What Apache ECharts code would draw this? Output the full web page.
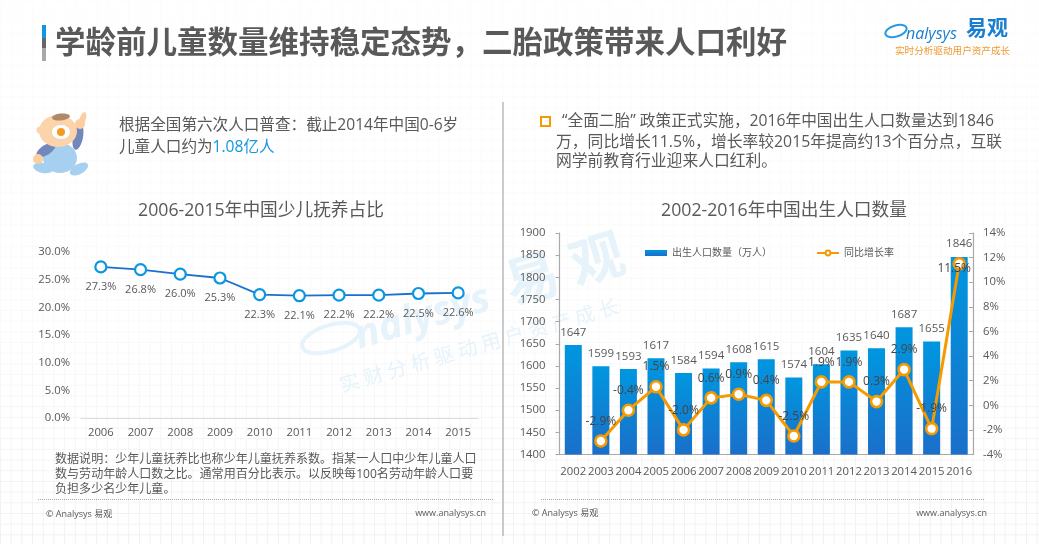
<!DOCTYPE html>
<html><head><meta charset="utf-8">
<style>
html,body{margin:0;padding:0;width:1039px;height:544px;overflow:hidden;background:#fff}
#bg{position:absolute;left:0;top:0;width:1039px;height:544px;
background-image:linear-gradient(#f1f1f1 1px,transparent 1px),linear-gradient(90deg,#f1f1f1 1px,transparent 1px);
background-size:10.7px 10.7px}
#fade{position:absolute;left:0;top:0;width:1039px;height:544px;background:linear-gradient(180deg,rgba(255,255,255,.85) 0,rgba(255,255,255,.6) 60%,rgba(255,255,255,0) 100%)}
#c{position:absolute;left:0;top:0;width:1039px;height:544px}
</style></head><body><div id="bg"></div><div id="fade"></div><div id="c"></div>
<script src="https://cdn.jsdelivr.net/npm/echarts@6/dist/echarts.min.js"></script>
<script>
var ratioYears=['2006','2007','2008','2009','2010','2011','2012','2013','2014','2015'];
var ratioValues=[27.3,26.8,26.0,25.3,22.3,22.1,22.2,22.2,22.5,22.6];
var birthYears=['2002','2003','2004','2005','2006','2007','2008','2009','2010','2011','2012','2013','2014','2015','2016'];
var birthValues=[1647,1599,1593,1617,1584,1594,1608,1615,1574,1604,1635,1640,1687,1655,1846];
var growthValues=[null,-2.9,-0.4,1.5,-2.0,0.6,0.9,0.4,-2.5,1.9,1.9,0.3,2.9,-1.9,11.5];
var FONT='"Open Sans","Noto Sans CJK SC",sans-serif';
var INK='#595959';
var chart=echarts.init(document.getElementById('c'),null,{renderer:'canvas'});
function T(x,y,text,size,extra){
  var s=Object.assign({text:text,font:(extra&&extra.weight||'normal')+' '+size+'px '+FONT,fill:(extra&&extra.fill)||INK,
    textAlign:(extra&&extra.align)||'left',textVerticalAlign:'middle'},extra&&extra.style||{});
  var o={type:'text',x:x,y:y,rotation:(extra&&extra.rotation)||0,z:(extra&&extra.z)||5,silent:true,style:s};
  if(extra&&extra.zlevel!==undefined)o.zlevel=extra.zlevel;
  return o;
}
function R(x,y,w,h,fill,z){return {type:'rect',shape:{x:x,y:y,width:w,height:h},style:{fill:fill},z:z||5,silent:true};}
function dotted(x1,x2,y){return {type:'line',shape:{x1:x1,y1:y,x2:x2,y2:y},style:{stroke:'#a8a8a8',lineWidth:1,lineDash:[1,1]},z:5,silent:true};}
function C(x,y,r,fill){return {type:'circle',shape:{cx:x,cy:y,r:r},style:{fill:fill},z:5,silent:true};}
function E(x,y,a,b,fill,rot){return {type:'ellipse',x:x,y:y,rotation:rot||0,shape:{cx:0,cy:0,rx:a,ry:b},style:{fill:fill},z:5,silent:true};}
function swoosh(x,y,a,b,color,w,zl){var o={type:'ellipse',x:x,y:y,rotation:0.3,shape:{cx:0,cy:0,rx:a,ry:b},style:{fill:'none',stroke:color,lineWidth:w},z:1,silent:true};if(zl!==undefined)o.zlevel=zl;return o;}
var WM='#e6f3fa';
var graphics=[
  R(42,25,4,13,'#1296e0'),R(42,38,4,10,'#666'),R(42,48,4,13,'#a8a8a8'),
  T(55,44,'学龄前儿童数量维持稳定态势，二胎政策带来人口利好',30.5,{weight:'bold'}),
  swoosh(896,31,11,5.5,'#2a9be0',2),
  T(906,34,'nalysys',16,{fill:'#1a7fd0',style:{font:'italic 16px '+FONT}}),
  T(966,29,'易观',21,{fill:'#1a7fd0',weight:'bold'}),
  T(895,50,'实时分析驱动用户资产成长',9.6,{fill:'#f09a30',style:{font:'9.6px "Noto Sans CJK SC"'}}),
  {type:'line',shape:{x1:503,y1:102,x2:503,y2:536},style:{stroke:'#a9a9a9',lineWidth:1.2},z:5,silent:true},
  // mascot
  E(60,158,17,15,'#a7d0f0',0),E(43,168,10,5,'#a7d0f0',-0.2),E(79,169,10,5,'#a7d0f0',0.5),
  E(46,150,5,11,'#7487bb',-1.0),E(78,137,5,13,'#7487bb',-0.2),
  C(38,159,5,'#fbcfa0'),E(83,118,3,6,'#fbcfa0',-0.3),C(80,124,5,'#fbcfa0'),
  E(58,131,19,16,'#fbd4ab',0),C(40,130,3.5,'#fbd4ab'),
  E(61,117,9,3.5,'#b08a68',0.1),E(61,132,9,7,'#ffffff',0),C(61,132,4,'#f59a23'),
  // paragraphs
  T(119,126,'根据全国第六次人口普查：截止2014年中国0-6岁',15.6),
  T(119,148,'{a|儿童人口约为}{b|1.08亿人}',15.6,{style:{rich:{a:{fill:INK,font:'15.6px '+FONT},b:{fill:'#1296e0',font:'15.6px '+FONT}}}}),
  {type:'rect',shape:{x:541,y:117,width:9,height:9},style:{fill:'#fff',stroke:'#f59a00',lineWidth:2},z:5,silent:true},
  T(562,122,'“全面二胎” 政策正式实施，2016年中国出生人口数量达到1846',15.7),
  T(556,142,'万，同比增长11.5%，增长率较2015年提高约13个百分点，互联',15.8),
  T(556,161,'网学前教育行业迎来人口红利。',15.8),
  T(55,460,'数据说明：少年儿童抚养比也称少年儿童抚养系数。指某一人口中少年儿童人口',12.05),
  T(55,475,'数与劳动年龄人口数之比。通常用百分比表示。以反映每100名劳动年龄人口要',12.05),
  T(55,490,'负担多少名少年儿童。',12.05),
  dotted(38,494,499.5),dotted(541,985,499.5),
  T(46,514,'© Analysys 易观',9),T(486,513,'www.analysys.cn',9,{align:'right'}),
  T(532,513,'© Analysys 易观',9),T(987,513,'www.analysys.cn',9,{align:'right'}),
  // watermark
  swoosh(331,338,30,13,WM,4,-1),
  T(356,338,'nalysys',40,{fill:WM,rotation:0.29,z:1,zlevel:-1,weight:'bold',style:{font:'italic bold 40px '+FONT}}),
  T(507,290,'易 观',54,{fill:WM,rotation:0.29,z:1,zlevel:-1,weight:'bold'}),
  T(340,385,'实 财 分 析 驱 动 用 户 资 产 成 长',20,{fill:WM,rotation:0.28,z:1,zlevel:-1,style:{font:'20px "Noto Sans CJK SC"'}})
];
var barGrad=new echarts.graphic.LinearGradient(0,0,0,1,[{offset:0,color:'#0097e0'},{offset:1,color:'#1a6fc9'}]);
var axisLabel={color:INK,fontSize:11.3,fontFamily:FONT};
chart.setOption({
  animation:false,
  textStyle:{fontFamily:FONT},
  title:[
    {text:'2006-2015年中国少儿抚养占比',left:256,top:197,textAlign:'center',textStyle:{fontSize:17.7,fontWeight:'normal',color:INK,fontFamily:FONT}},
    {text:'2002-2016年中国出生人口数量',left:779,top:197,textAlign:'center',textStyle:{fontSize:17.7,fontWeight:'normal',color:INK,fontFamily:FONT}}
  ],
  legend:{left:640,top:243,itemWidth:22,itemHeight:6,itemGap:44,
    textStyle:{color:INK,fontSize:10,fontFamily:FONT},
    data:[{name:'出生人口数量（万人）',icon:'rect'},{name:'同比增长率'}]},
  grid:[
    {left:81,right:561,top:252,bottom:126},
    {left:559.5,right:66,top:233,bottom:89.5}
  ],
  xAxis:[
    {type:'category',gridIndex:0,data:ratioYears,axisLine:{lineStyle:{color:'#dcdcdc'}},axisTick:{inside:true,length:5,lineStyle:{color:'#dcdcdc'}},axisLabel:Object.assign({margin:9},axisLabel)},
    {type:'category',gridIndex:1,data:birthYears,axisLine:{onZero:false,lineStyle:{color:'#a9a9a9',width:1.2}},axisTick:{show:false},axisLabel:Object.assign({margin:12,interval:0},axisLabel)}
  ],
  yAxis:[
    {type:'value',gridIndex:0,min:0,max:30,interval:5,axisLine:{show:false},axisTick:{show:false},splitLine:{show:false},
      axisLabel:Object.assign({margin:11,formatter:function(v){return v.toFixed(1)+'%';}},axisLabel)},
    {type:'value',gridIndex:1,min:1400,max:1900,interval:50,axisLine:{show:true,lineStyle:{color:'#a9a9a9',width:1.2}},axisTick:{show:true,inside:false,length:4,lineStyle:{color:'#a9a9a9'}},splitLine:{show:false},
      axisLabel:Object.assign({margin:14,formatter:function(v){return String(v);}},axisLabel)},
    {type:'value',gridIndex:1,position:'right',min:-4,max:14,interval:2,axisLine:{show:true,lineStyle:{color:'#a9a9a9',width:1.2}},axisTick:{show:true,inside:true,length:4,lineStyle:{color:'#a9a9a9'}},splitLine:{show:false},
      axisLabel:Object.assign({margin:10,formatter:'{value}%'},axisLabel)}
  ],
  series:[
    {name:'少儿抚养占比',type:'line',xAxisIndex:0,yAxisIndex:0,data:ratioValues,symbol:'circle',symbolSize:11,showAllSymbol:true,
      lineStyle:{color:'#1a6fcf',width:1.8},itemStyle:{color:'#fff',borderColor:'#0a97e0',borderWidth:2.2},
      label:{show:true,position:'bottom',distance:8,color:INK,fontSize:11,formatter:function(p){return p.value.toFixed(1)+'%';}}},
    {name:'出生人口数量（万人）',type:'bar',xAxisIndex:1,yAxisIndex:1,data:birthValues,barWidth:17,itemStyle:{color:barGrad},
      label:{show:true,position:'top',distance:7,color:INK,fontSize:11.5}},
    {name:'同比增长率',type:'line',xAxisIndex:1,yAxisIndex:2,z:4,data:growthValues.map(function(v,i){
        return i===growthValues.length-1?{value:v,label:{position:'inside',offset:[-5,5]}}:v;}),
      symbol:'circle',symbolSize:11,showAllSymbol:true,connectNulls:false,
      lineStyle:{color:'#f59a00',width:3},itemStyle:{color:'#fff',borderColor:'#f59a00',borderWidth:2.6},
      label:{show:true,position:'top',distance:7,color:'#454545',fontSize:12,formatter:function(p){return p.value.toFixed(1)+'%';}}}
  ],
  graphic:graphics
});
</script></body></html>
